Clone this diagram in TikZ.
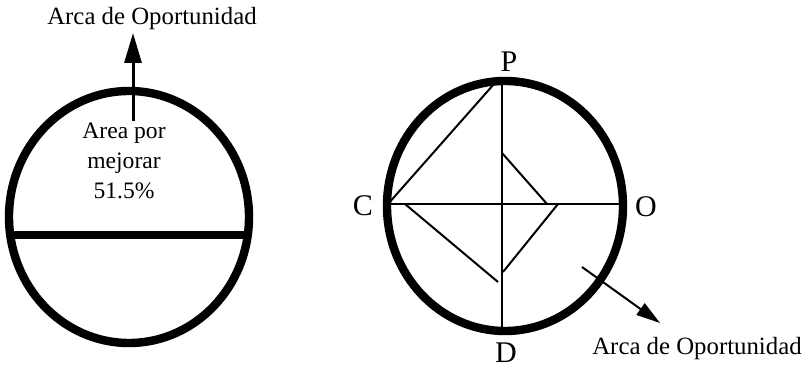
\documentclass[tikz,border=0pt]{standalone}
\usepackage{fontspec}
\setmainfont{Liberation Serif}
\usetikzlibrary{arrows.meta}
\tikzset{
  rim/.style={draw, line width=4.2pt},
  bar/.style={draw, line width=4.2pt},
  fine/.style={draw, line width=1pt},
  up/.style={-{Triangle[length=15pt,width=8.5pt]}, line width=1.5pt},
  down/.style={-{Triangle[length=12pt,width=7pt]}, line width=1pt},
  txt/.style={inner sep=0pt, font=\fontsize{12.4}{15}\selectfont},
  pt/.style={inner sep=0pt, font=\fontsize{15}{18}\selectfont}
}

\begin{document}
\begin{tikzpicture}[x=0.5pt,y=-0.5pt]
\useasboundingbox (0,0) rectangle (808,367);
% left circle
\draw[rim] (129,217) ellipse [x radius=120, y radius=126];
\coordinate (bl) at (10,235); \coordinate (br) at (248,235);
\draw[bar] (bl) -- (br);
\node[txt] (arca1) at (152,19) {Arca de Oportunidad};
\node[txt, align=center, font=\fontsize{11.8}{15}\selectfont] (mej) at (124,161) {Area por\\mejorar\\51.5\%};
\coordinate (a0) at (133,121); \coordinate (a1) at (133,33);
\draw[up] (a0) -- (a1);
% right circle
\draw[rim] (505,206) ellipse [x radius=118, y radius=125];
\node[pt] (P) at (509,62) {P};
\node[pt] (C) at (363,206) {C};
\node[pt] (O) at (646,207) {O};
\node[pt] (D) at (506,353) {D};
\coordinate (p0) at (502,78); \coordinate (d0) at (502,330);
\coordinate (c0) at (388,204); \coordinate (o0) at (622,204);
\draw[fine] (p0) -- (d0);
\draw[fine] (c0) -- (o0);
\coordinate (q1) at (494,84);   \coordinate (q2) at (502,153);
\coordinate (q3) at (547,204);  \coordinate (q4) at (558,204);
\coordinate (q5) at (503,272);  \coordinate (q6) at (405,204);
\coordinate (q7) at (498,282);
\draw[fine] (c0) -- (q1);
\draw[fine] (q2) -- (q3);
\draw[fine] (q4) -- (q5);
\draw[fine] (q6) -- (q7);
\node[txt] (arca2) at (697,349) {Arca de Oportunidad};
\coordinate (b0) at (582,267); \coordinate (b1) at (660,323);
\draw[down] (b0) -- (b1);
\end{tikzpicture}
\end{document}
